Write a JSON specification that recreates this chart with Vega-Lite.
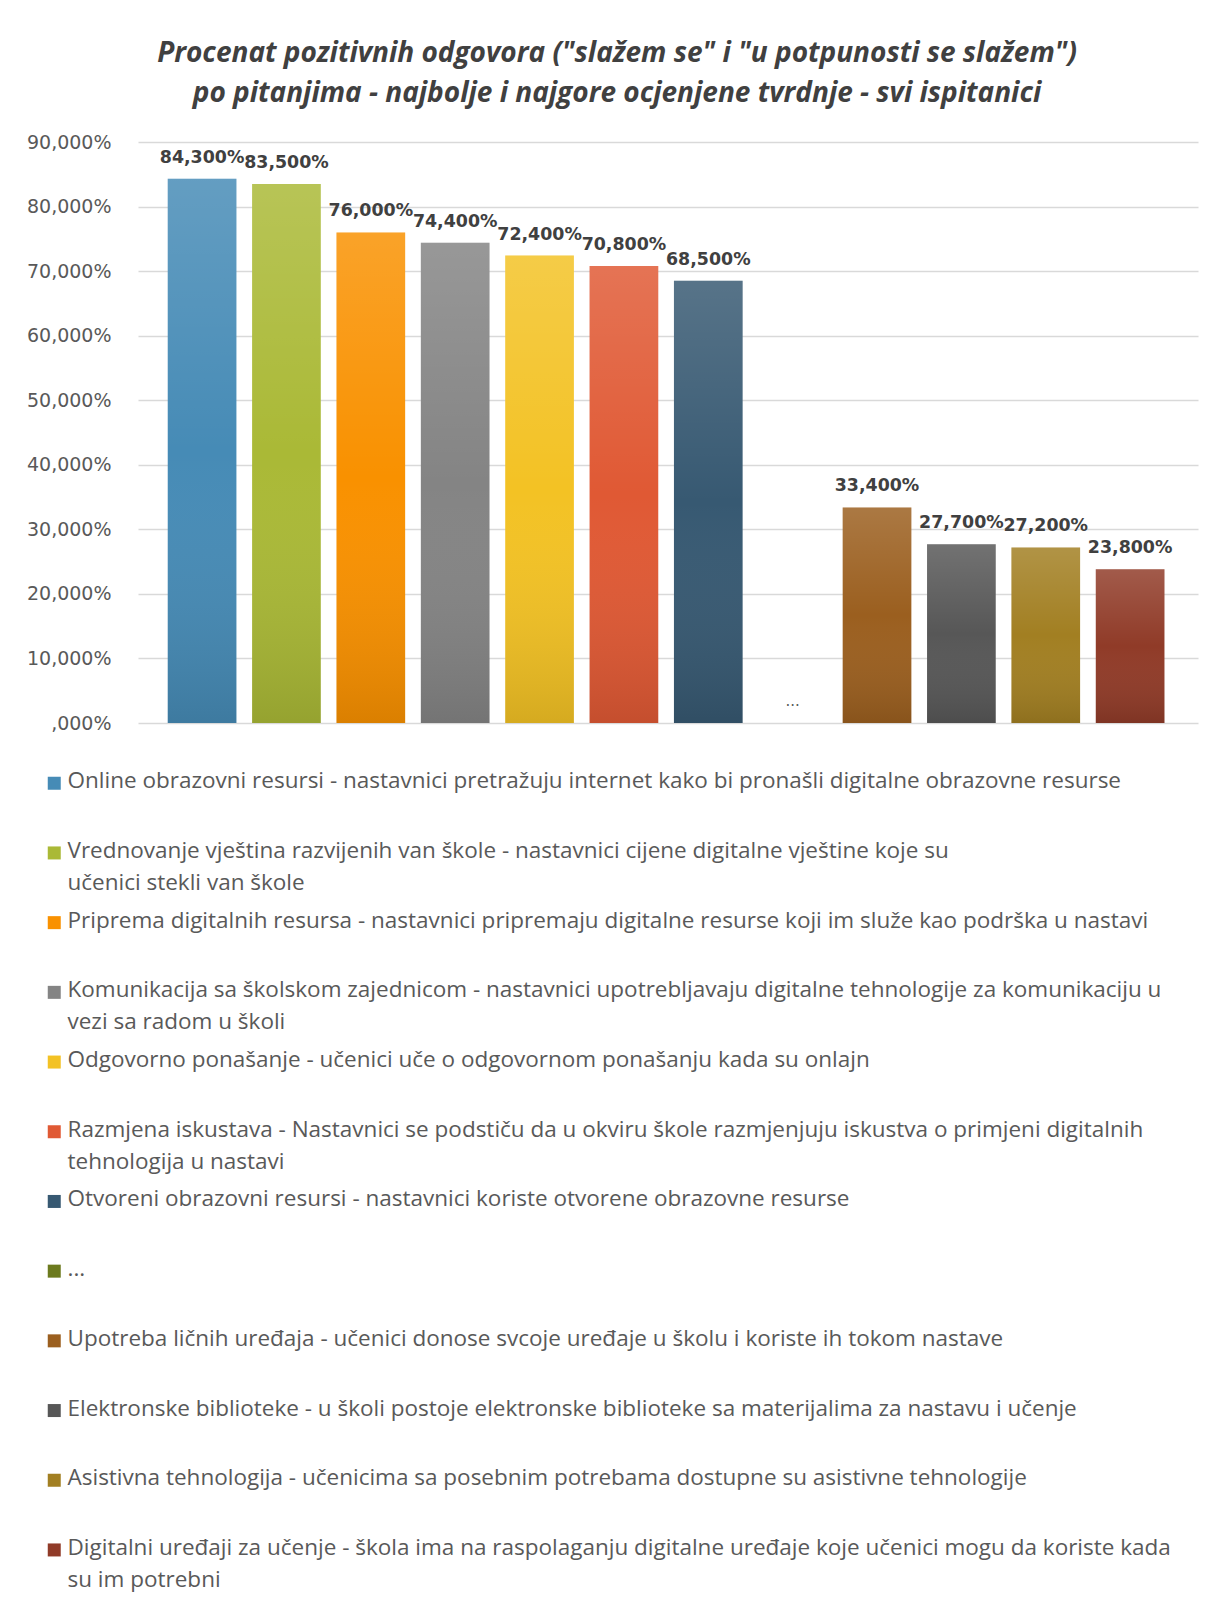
{
  "$schema": "https://vega.github.io/schema/vega-lite/v6.json",
  "width": 1060,
  "height": 581,
  "autosize": {"type": "none"},
  "padding": {"left": 138, "top": 142, "right": 17, "bottom": 885},
  "background": "white",
  "title": {
    "text": ["Procenat pozitivnih odgovora (\"slažem se\" i \"u potpunosti se slažem\")", "po pitanjima - najbolje i najgore ocjenjene tvrdnje - svi ispitanici"],
    "anchor": "middle",
    "frame": "group",
    "dx": -51,
    "offset": 25,
    "font": "Open Sans",
    "fontSize": 28,
    "fontWeight": "bold",
    "fontStyle": "italic",
    "color": "#404040",
    "lineHeight": 40
  },
  "data": {
    "values": [
      {"name": "Online obrazovni resursi - nastavnici pretražuju internet kako bi pronašli digitalne obrazovne resurse", "value": 84.3},
      {"name": "Vrednovanje vještina razvijenih van škole - nastavnici cijene digitalne vještine koje su|učenici stekli van škole", "value": 83.5},
      {"name": "Priprema digitalnih resursa - nastavnici pripremaju digitalne resurse koji im služe kao podrška u nastavi", "value": 76.0},
      {"name": "Komunikacija sa školskom zajednicom - nastavnici upotrebljavaju digitalne tehnologije za komunikaciju u|vezi sa radom u školi", "value": 74.4},
      {"name": "Odgovorno ponašanje - učenici uče o odgovornom ponašanju kada su onlajn", "value": 72.4},
      {"name": "Razmjena iskustava - Nastavnici se podstiču da u okviru škole razmjenjuju iskustva o primjeni digitalnih|tehnologija u nastavi", "value": 70.8},
      {"name": "Otvoreni obrazovni resursi - nastavnici koriste otvorene obrazovne resurse", "value": 68.5},
      {"name": "...", "value": null},
      {"name": "Upotreba ličnih uređaja - učenici donose svcoje uređaje u školu i koriste ih tokom nastave", "value": 33.4},
      {"name": "Elektronske biblioteke - u školi postoje elektronske biblioteke sa materijalima za nastavu i učenje", "value": 27.7},
      {"name": "Asistivna tehnologija - učenicima sa posebnim potrebama dostupne su asistivne tehnologije", "value": 27.2},
      {"name": "Digitalni uređaji za učenje - škola ima na raspolaganju digitalne uređaje koje učenici mogu da koriste kada|su im potrebni", "value": 23.8}
    ]
  },
  "encoding": {
    "x": {
      "field": "name",
      "type": "nominal",
      "sort": null,
      "axis": null,
      "scale": {
        "domain": [
          "Online obrazovni resursi - nastavnici pretražuju internet kako bi pronašli digitalne obrazovne resurse",
          "Vrednovanje vještina razvijenih van škole - nastavnici cijene digitalne vještine koje su|učenici stekli van škole",
          "Priprema digitalnih resursa - nastavnici pripremaju digitalne resurse koji im služe kao podrška u nastavi",
          "Komunikacija sa školskom zajednicom - nastavnici upotrebljavaju digitalne tehnologije za komunikaciju u|vezi sa radom u školi",
          "Odgovorno ponašanje - učenici uče o odgovornom ponašanju kada su onlajn",
          "Razmjena iskustava - Nastavnici se podstiču da u okviru škole razmjenjuju iskustva o primjeni digitalnih|tehnologija u nastavi",
          "Otvoreni obrazovni resursi - nastavnici koriste otvorene obrazovne resurse",
          "...",
          "Upotreba ličnih uređaja - učenici donose svcoje uređaje u školu i koriste ih tokom nastave",
          "Elektronske biblioteke - u školi postoje elektronske biblioteke sa materijalima za nastavu i učenje",
          "Asistivna tehnologija - učenicima sa posebnim potrebama dostupne su asistivne tehnologije",
          "Digitalni uređaji za učenje - škola ima na raspolaganju digitalne uređaje koje učenici mogu da koriste kada|su im potrebni"
        ],
        "paddingInner": 0.186,
        "paddingOuter": 0.375,
        "align": 0.47
      }
    }
  },
  "layer": [
    {
      "mark": {"type": "bar"},
      "encoding": {
        "y": {
          "field": "value",
          "type": "quantitative",
          "scale": {"domain": [0, 90], "nice": false},
          "axis": {
            "title": null,
            "values": [0, 10, 20, 30, 40, 50, 60, 70, 80, 90],
            "labelExpr": "datum.value == 0 ? ',000%' : replace(format(datum.value, '.3f'), '.', ',') + '%'",
            "domain": false,
            "ticks": false,
            "grid": true,
            "gridColor": "#d9d9d9",
            "gridWidth": 1.5,
            "labelFont": "DejaVu Sans",
            "labelFontSize": 19,
            "labelColor": "#595959",
            "labelPadding": 27
          }
        },
        "color": {
          "field": "name",
          "type": "nominal",
          "sort": null,
          "scale": {
            "domain": [
              "Online obrazovni resursi - nastavnici pretražuju internet kako bi pronašli digitalne obrazovne resurse",
              "Vrednovanje vještina razvijenih van škole - nastavnici cijene digitalne vještine koje su|učenici stekli van škole",
              "Priprema digitalnih resursa - nastavnici pripremaju digitalne resurse koji im služe kao podrška u nastavi",
              "Komunikacija sa školskom zajednicom - nastavnici upotrebljavaju digitalne tehnologije za komunikaciju u|vezi sa radom u školi",
              "Odgovorno ponašanje - učenici uče o odgovornom ponašanju kada su onlajn",
              "Razmjena iskustava - Nastavnici se podstiču da u okviru škole razmjenjuju iskustva o primjeni digitalnih|tehnologija u nastavi",
              "Otvoreni obrazovni resursi - nastavnici koriste otvorene obrazovne resurse",
              "...",
              "Upotreba ličnih uređaja - učenici donose svcoje uređaje u školu i koriste ih tokom nastave",
              "Elektronske biblioteke - u školi postoje elektronske biblioteke sa materijalima za nastavu i učenje",
              "Asistivna tehnologija - učenicima sa posebnim potrebama dostupne su asistivne tehnologije",
              "Digitalni uređaji za učenje - škola ima na raspolaganju digitalne uređaje koje učenici mogu da koriste kada|su im potrebni"
            ],
            "range": ["#468bb6", "#aab936", "#f99100", "#848484", "#f3c224", "#e05934", "#375972", "#6c7a1e", "#9b5f1f", "#575757", "#a27f22", "#903b28"]
          },
          "legend": {
            "title": null,
            "orient": "none",
            "legendX": -95,
            "legendY": 630,
            "direction": "vertical",
            "columns": 1,
            "gridAlign": "all",
            "rowPadding": 14.7,
            "padding": 0,
            "symbolType": "square",
            "symbolSize": 169,
            "symbolStrokeWidth": 0,
            "symbolOpacity": 1,
            "labelFont": "Open Sans",
            "labelFontSize": 22.5,
            "labelColor": "#595959",
            "labelOffset": 2,
            "labelLimit": 1300,
            "labelBaseline": "top",
            "labelExpr": "split(datum.label, '|')",
            "encode": {
              "labels": {"update": {"dy": {"value": -13}, "lineHeight": {"value": 32}}}
            }
          }
        }
      }
    },
    {
      "mark": {
        "type": "bar",
        "fill": {"gradient": "linear", "x1": 0, "y1": 0, "x2": 0, "y2": 1, "stops": [{"offset": 0, "color": "rgba(255,255,255,0.16)"}, {"offset": 0.5, "color": "rgba(255,255,255,0)"}, {"offset": 1, "color": "rgba(0,0,0,0.12)"}]}
      },
      "encoding": {
        "y": {"field": "value", "type": "quantitative"}
      }
    },
    {
      "transform": [{"filter": "datum.value != null"}],
      "mark": {
        "type": "text",
        "font": "DejaVu Sans",
        "fontWeight": "bold",
        "fontSize": 17.4,
        "color": "#404040",
        "baseline": "alphabetic",
        "dy": -16,
        "text": {"expr": "replace(format(datum.value, '.3f'), '.', ',') + '%'"}
      },
      "encoding": {
        "y": {"field": "value", "type": "quantitative"}
      }
    },
    {
      "transform": [{"filter": "datum.name == '...'"}],
      "mark": {
        "type": "text",
        "font": "DejaVu Sans",
        "fontSize": 15,
        "color": "#595959",
        "baseline": "alphabetic",
        "dy": -17,
        "text": "..."
      },
      "encoding": {
        "y": {"datum": 0, "type": "quantitative"}
      }
    }
  ],
  "config": {"view": {"stroke": null}}
}
